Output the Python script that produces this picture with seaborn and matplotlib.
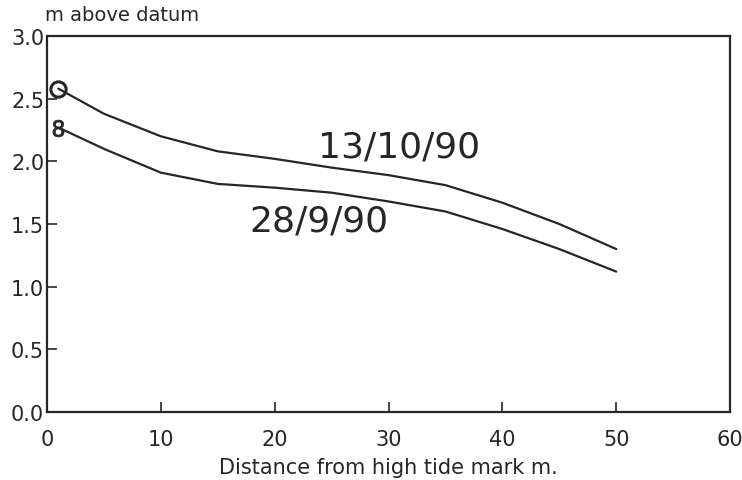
import matplotlib
matplotlib.use("Agg")
import matplotlib.pyplot as plt
import seaborn as sns
import pandas as pd

# Beach profile survey: height above datum along the transect
distance = [1, 5, 10, 15, 20, 25, 30, 35, 40, 45, 50]
height_13_oct = [2.58, 2.38, 2.20, 2.08, 2.02, 1.95, 1.89, 1.81, 1.67, 1.50, 1.30]
height_28_sep = [2.27, 2.10, 1.91, 1.82, 1.79, 1.75, 1.68, 1.60, 1.46, 1.30, 1.12]
survey_labels = ["13/10/90", "28/9/90"]

x_ticks = [0, 10, 20, 30, 40, 50, 60]
y_ticks = [0.0, 0.5, 1.0, 1.5, 2.0, 2.5, 3.0]

sns.set_style("ticks")
plt.rcParams["font.family"] = ["DejaVu Sans"]

fig = plt.figure(figsize=(7.42, 4.81), dpi=100)
ax = fig.add_axes([0.0633, 0.1414, 0.9207, 0.7816])

df_oct = pd.DataFrame({"distance": distance, "height": height_13_oct})
df_sep = pd.DataFrame({"distance": distance, "height": height_28_sep})

ink = "#262626"
sns.lineplot(data=df_oct, x="distance", y="height", ax=ax, color=ink, lw=1.6,
             marker="o", markevery=[0], markersize=11, markerfacecolor="none",
             markeredgecolor=ink, markeredgewidth=2.2)
sns.lineplot(data=df_sep, x="distance", y="height", ax=ax, color=ink, lw=1.6,
             marker="$8$", markevery=[0], markersize=12,
             markerfacecolor=ink, markeredgecolor=ink, markeredgewidth=0.6)

ax.text(30.9, 2.12, survey_labels[0], fontsize=26, color=ink, ha="center", va="center")
ax.text(23.9, 1.53, survey_labels[1], fontsize=26, color=ink, ha="center", va="center")

ax.set_xlim(0, 60)
ax.set_ylim(0, 3.0)
ax.set_xticks(x_ticks)
ax.set_yticks(y_ticks)
ax.set_xticklabels([str(t) for t in x_ticks])
ax.set_yticklabels([f"{t:.1f}" for t in y_ticks])
ax.tick_params(axis="both", direction="in", length=7, width=1.2, color=ink,
               labelsize=15, labelcolor=ink)
ax.tick_params(axis="x", pad=12)
ax.tick_params(axis="y", pad=2)

for side in ["left", "right", "top", "bottom"]:
    ax.spines[side].set_visible(True)
    ax.spines[side].set_linewidth(1.6)
    ax.spines[side].set_color(ink)

ax.set_xlabel("Distance from high tide mark m.", fontsize=15, color=ink, labelpad=6)
ax.set_ylabel("")
fig.text(0.061, 0.968, "m above datum", fontsize=14, color=ink, ha="left", va="center")

fig.savefig("out.png", dpi=100, facecolor="white")
